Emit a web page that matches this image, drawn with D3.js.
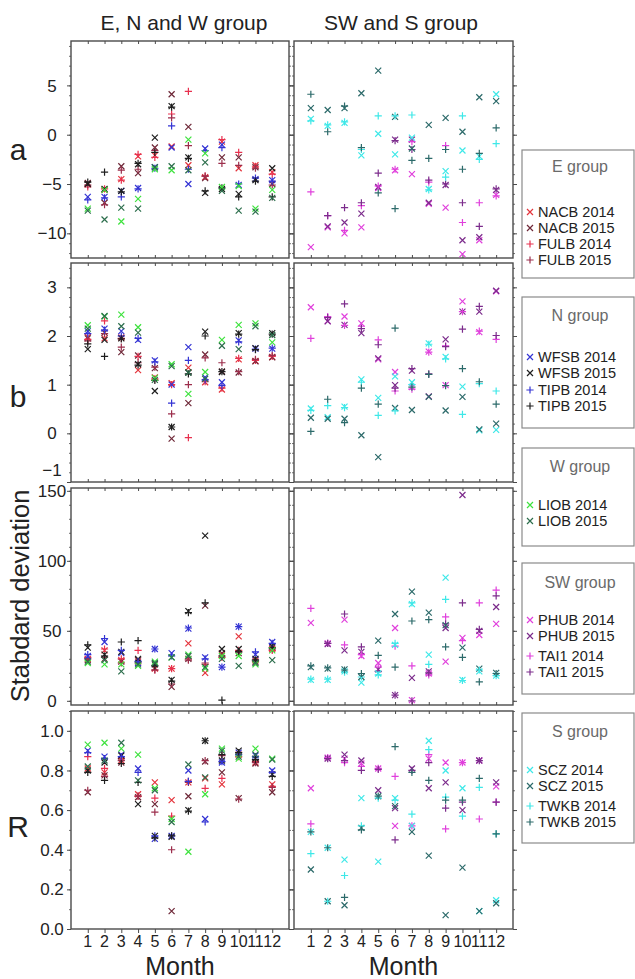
<!DOCTYPE html>
<html><head><meta charset="utf-8">
<script src="https://cdn.jsdelivr.net/npm/d3@7"></script>
<style>body{margin:0;background:#fff} svg{display:block;font-family:"Liberation Sans",Arial,sans-serif}</style>
</head><body><svg id="c" width="635" height="979"></svg>
<script>
// ---------------- DATA ----------------
const months = [1,2,3,4,5,6,7,8,9,10,11,12];
const monthLabels = ["1","2","3","4","5","6","7","8","9","10","11","12"];

const leftStations  = ["NACB14","NACB15","FULB14","FULB15","WFSB14","WFSB15","TIPB14","TIPB15","LIOB14","LIOB15"];
const rightStations = ["PHUB14","PHUB15","TAI114","TAI115","SCZ14","SCZ15","TWKB14","TWKB15"];

// a
const a_NACB14 = [-5.0,-5.6,-4.5,-2.2,-2.1,-1.2,-3.1,-4.3,-0.7,-3.4,-3.1,-3.8];
const a_NACB15 = [-4.9,-6.9,-3.2,-3.9,-1.3,4.1,0.8,-4.4,-2.3,-2.3,-3.3,-5.0];
const a_FULB14 = [-5.3,-5.5,-4.6,-2.0,-2.3,2.1,4.4,-4.2,-0.5,-1.8,-3.2,-4.0];
const a_FULB15 = [-5.1,-7.1,-3.6,-3.5,-1.6,1.7,-1.1,-4.2,-2.9,-3.1,-3.4,-5.1];
const a_WFSB14 = [-6.3,-6.3,-5.7,-5.4,-3.3,-1.3,-5.0,-1.4,-1.0,-5.1,-4.5,-4.6];
const a_WFSB15 = [-5.0,-5.5,-5.7,-3.0,-0.3,2.9,-2.3,-5.9,-5.5,-6.0,-4.6,-3.4];
const a_TIPB14 = [-6.6,-6.4,-6.3,-5.5,-3.4,0.9,-3.5,-1.6,-1.3,-5.0,-4.4,-4.7];
const a_TIPB15 = [-4.8,-3.8,-5.8,-2.9,-1.8,2.8,-2.4,-5.7,-5.4,-6.3,-4.7,-6.3];
const a_LIOB14 = [-7.5,-5.6,-8.8,-6.5,-3.5,-3.6,-0.5,-1.9,-5.3,-5.2,-7.5,-5.6];
const a_LIOB15 = [-7.7,-8.6,-7.4,-7.5,-3.3,-3.2,-3.6,-2.8,-5.7,-7.7,-7.8,-6.4];
const a_PHUB14 = [-11.4,-9.4,-10.0,-9.4,-5.4,-3.6,-4.0,-7.0,-7.4,-12.1,-10.7,-6.1];
const a_PHUB15 = [null,-9.3,-8.9,-8.0,-5.3,-0.5,-0.5,-6.9,-5.1,-10.7,-10.4,-5.6];
const a_TAI114 = [-5.8,-8.2,-9.7,-7.2,-5.2,-3.5,-0.7,-4.8,-1.1,-8.9,-6.9,-6.2];
const a_TAI115 = [null,-8.2,-7.4,-6.9,-3.9,-0.6,-1.5,-4.6,-5.0,-6.9,-9.3,-5.5];
const a_SCZ14  = [1.6,0.9,1.2,-2.1,0.1,-2.0,-0.3,-5.5,-3.7,-1.6,-2.2,4.1];
const a_SCZ15  = [2.7,2.5,2.7,4.2,6.5,1.8,-1.4,1.0,1.7,0.3,3.8,3.4];
const a_TWKB14 = [1.4,1.0,1.3,-1.5,1.9,1.9,2.0,-5.6,-4.3,1.9,-2.5,-0.9];
const a_TWKB15 = [4.1,0.3,2.9,-1.3,-5.9,-7.5,-2.6,-2.4,-1.5,-3.5,-1.9,0.7];

// b
const b_NACB14 = [1.98,1.95,1.97,1.30,1.15,1.03,1.35,1.05,0.90,1.52,1.49,1.57];
const b_NACB15 = [1.95,2.07,1.67,1.60,1.34,-0.11,0.62,1.62,1.27,1.25,1.48,1.56];
const b_FULB14 = [1.93,2.31,1.95,1.58,1.12,1.00,-0.09,1.06,0.93,1.54,1.50,1.58];
const b_FULB15 = [1.90,2.05,1.77,1.45,1.36,0.40,1.00,1.55,1.45,1.27,1.52,1.60];
const b_WFSB14 = [2.10,2.15,2.10,1.92,1.50,1.00,1.77,1.15,1.05,1.91,1.74,1.74];
const b_WFSB15 = [1.73,1.92,1.95,1.42,0.87,0.13,1.25,2.09,1.26,2.06,1.75,2.06];
const b_TIPB14 = [2.05,2.12,2.00,1.95,1.47,0.62,1.50,1.10,0.98,1.88,1.73,1.75];
const b_TIPB15 = [1.84,1.58,1.94,1.40,1.09,0.13,1.22,2.00,1.27,2.04,1.72,2.04];
const b_LIOB14 = [2.22,2.40,2.44,2.18,1.14,1.42,0.81,1.26,1.92,2.23,2.26,1.87];
const b_LIOB15 = [2.15,2.41,2.20,2.07,1.10,1.38,1.25,1.12,1.80,1.73,2.20,2.02];
const b_PHUB14 = [2.59,2.31,2.40,2.26,1.52,1.26,0.95,1.68,0.99,2.71,2.08,2.92];
const b_PHUB15 = [null,2.30,2.23,2.06,1.54,0.99,1.29,0.76,1.93,2.50,2.50,2.93];
const b_TAI114 = [1.95,2.40,2.22,2.20,1.92,0.87,0.91,1.67,1.80,2.50,2.10,1.93];
const b_TAI115 = [null,2.38,2.66,2.15,1.82,0.93,1.33,1.22,1.78,2.14,2.61,2.01];
const b_SCZ14  = [0.51,0.33,0.55,1.11,0.73,1.17,1.05,1.85,1.57,0.96,0.06,0.07];
const b_SCZ15  = [0.32,0.30,0.30,-0.04,-0.49,0.52,0.48,0.75,0.47,0.75,0.08,0.20];
const b_TWKB14 = [0.47,0.57,0.53,1.05,0.37,0.46,1.00,1.83,1.53,0.39,1.02,0.87];
const b_TWKB15 = [0.04,0.70,0.22,0.93,0.60,2.16,0.95,1.21,0.98,1.33,1.06,0.60];

// c (standard deviation)
const c_NACB14 = [30,36,29,28,23,23,41,20,33,46,29,37];
const c_NACB15 = [29,30,28,29,23.5,10,30,68,34,34,28,38];
const c_FULB14 = [31,37,30,36,22,23,30,26,31,36,28,36];
const c_FULB15 = [30,31,27,27,22,12,29,27,32,35,29,37];
const c_WFSB14 = [32,42,34,27,37,34,51.5,31,24,53,33,42];
const c_WFSB15 = [38,33,35,30,26,15,64,118,37,37,30,39];
const c_TIPB14 = [33,44.5,36,28,37,32,52,30,24,53,35,41];
const c_TIPB15 = [40,32,42,43,25,14,63,70,0.5,35,29,38];
const c_LIOB14 = [27,26,26,25,28,31,33,23,32,32,26,36];
const c_LIOB15 = [28,29,21,26,27,31,32,24,30,25,27,29];
const c_PHUB14 = [55.7,41,58,32,27,52,0.5,19.5,28,45,47,55];
const c_PHUB15 = [null,40.5,36,35,22.5,4,16.4,21,52,147,50,67];
const c_TAI114 = [66,41,40,33,24,39,25,18.5,60,43,70,79];
const c_TAI115 = [null,41,62,38.5,21,4,0,20,55,70,51,75];
const c_SCZ14  = [15,15,21,13,19.5,40,69,33,88,15,21,18];
const c_SCZ15  = [24,23,22.5,17,43,62,78,63,54,38,23,20];
const c_TWKB14 = [15.5,15.5,20.5,17,18.5,41,70,26,72.5,14.5,22,18];
const c_TWKB15 = [25,23.5,22,19.5,32.5,24,57,58,38.5,31,13.5,19.5];

// d (R)
const d_NACB14 = [0.81,0.79,0.85,0.68,0.74,0.65,0.74,0.76,0.73,0.88,0.84,0.73];
const d_NACB15 = [0.69,0.775,0.84,0.665,0.63,0.09,0.67,0.845,0.79,0.66,0.835,0.69];
const d_FULB14 = [0.87,0.81,0.86,0.67,0.66,0.57,0.745,0.71,0.76,0.87,0.845,0.72];
const d_FULB15 = [0.70,0.77,0.85,0.67,0.59,0.40,0.74,0.85,0.875,0.655,0.84,0.715];
const d_WFSB14 = [0.90,0.87,0.88,0.81,0.455,0.47,0.80,0.555,0.84,0.89,0.875,0.80];
const d_WFSB15 = [0.80,0.84,0.875,0.63,0.47,0.465,0.60,0.95,0.85,0.90,0.86,0.78];
const d_TIPB14 = [0.89,0.86,0.87,0.79,0.47,0.47,0.745,0.54,0.845,0.88,0.87,0.79];
const d_TIPB15 = [0.79,0.75,0.835,0.74,0.46,0.47,0.595,0.95,0.88,0.89,0.855,0.77];
const d_LIOB14 = [0.93,0.94,0.91,0.88,0.71,0.555,0.39,0.68,0.91,0.86,0.91,0.86];
const d_LIOB15 = [0.82,0.85,0.94,0.75,0.70,0.54,0.83,0.765,0.90,0.87,0.88,0.855];
const d_PHUB14 = [0.71,0.865,0.86,0.835,0.81,0.52,0.52,0.86,0.84,0.84,0.85,0.72];
const d_PHUB15 = [null,0.86,0.88,0.85,0.70,0.61,0.81,0.71,0.74,0.60,0.85,0.74];
const d_TAI114 = [0.53,0.865,0.84,0.82,0.81,0.77,0.52,0.88,0.505,0.84,0.555,0.64];
const d_TAI115 = [null,0.86,0.85,0.80,0.805,0.45,0.80,0.84,0.61,0.64,0.85,0.64];
const d_SCZ14  = [0.49,0.41,0.35,0.66,0.34,0.66,0.52,0.95,0.80,0.71,0.09,0.145];
const d_SCZ15  = [0.30,0.14,0.12,0.51,0.67,0.62,0.49,0.37,0.07,0.31,0.09,0.13];
const d_TWKB14 = [0.38,0.14,0.27,0.52,0.66,0.65,0.58,0.905,0.665,0.57,0.715,0.48];
const d_TWKB15 = [0.49,0.41,0.16,0.50,0.67,0.92,0.79,0.75,0.65,0.65,0.76,0.48];

const tickLabels_a = [5,0,-5,-10];
const tickLabels_b = [3,2,1,0,-1];
const tickLabels_c = [150,100,50,0];
const tickLabels_d = [1.0,0.8,0.6,0.4,0.2,0.0];

const legendGroups = [
  {title:"E group",  items:[["NACB14","NACB 2014"],["NACB15","NACB 2015"],["FULB14","FULB 2014"],["FULB15","FULB 2015"]]},
  {title:"N group",  items:[["WFSB14","WFSB 2014"],["WFSB15","WFSB 2015"],["TIPB14","TIPB 2014"],["TIPB15","TIPB 2015"]]},
  {title:"W group",  items:[["LIOB14","LIOB 2014"],["LIOB15","LIOB 2015"]]},
  {title:"SW group", items:[["PHUB14","PHUB 2014"],["PHUB15","PHUB 2015"],["TAI114","TAI1 2014"],["TAI115","TAI1 2015"]]},
  {title:"S group",  items:[["SCZ14","SCZ 2014"],["SCZ15","SCZ 2015"],["TWKB14","TWKB 2014"],["TWKB15","TWKB 2015"]]}
];

// ---------------- STYLE ----------------
const style = {
  NACB14:{c:"#e4343c",s:"x"}, NACB15:{c:"#6e2838",s:"x"},
  FULB14:{c:"#e8304e",s:"+"}, FULB15:{c:"#9c2e4c",s:"+"},
  WFSB14:{c:"#3434d4",s:"x"}, WFSB15:{c:"#1e1e1e",s:"x"},
  TIPB14:{c:"#3434d4",s:"+"}, TIPB15:{c:"#1e1e1e",s:"+"},
  LIOB14:{c:"#3ee23e",s:"x"}, LIOB15:{c:"#2c6e4c",s:"x"},
  PHUB14:{c:"#e040dc",s:"x"}, PHUB15:{c:"#7c2c8c",s:"x"},
  TAI114:{c:"#e040dc",s:"+"}, TAI115:{c:"#7c2c8c",s:"+"},
  SCZ14:{c:"#3ee8e8",s:"x"},  SCZ15:{c:"#2c6a6a",s:"x"},
  TWKB14:{c:"#3ee8e8",s:"+"}, TWKB15:{c:"#2c6a6a",s:"+"}
};

// build lookup table from the named arrays
const src = {a_NACB14,a_NACB15,a_FULB14,a_FULB15,a_WFSB14,a_WFSB15,a_TIPB14,a_TIPB15,a_LIOB14,a_LIOB15,a_PHUB14,a_PHUB15,a_TAI114,a_TAI115,a_SCZ14,a_SCZ15,a_TWKB14,a_TWKB15,
 b_NACB14,b_NACB15,b_FULB14,b_FULB15,b_WFSB14,b_WFSB15,b_TIPB14,b_TIPB15,b_LIOB14,b_LIOB15,b_PHUB14,b_PHUB15,b_TAI114,b_TAI115,b_SCZ14,b_SCZ15,b_TWKB14,b_TWKB15,
 c_NACB14,c_NACB15,c_FULB14,c_FULB15,c_WFSB14,c_WFSB15,c_TIPB14,c_TIPB15,c_LIOB14,c_LIOB15,c_PHUB14,c_PHUB15,c_TAI114,c_TAI115,c_SCZ14,c_SCZ15,c_TWKB14,c_TWKB15,
 d_NACB14,d_NACB15,d_FULB14,d_FULB15,d_WFSB14,d_WFSB15,d_TIPB14,d_TIPB15,d_LIOB14,d_LIOB15,d_PHUB14,d_PHUB15,d_TAI114,d_TAI115,d_SCZ14,d_SCZ15,d_TWKB14,d_TWKB15};

// ---------------- LAYOUT ----------------
const svg = d3.select("#c");
const cols = [{x0:71,x1:289,stations:leftStations},{x0:294,x1:513,stations:rightStations}];
const rows = [
  {key:"a",domain:[-12.5,9.5],ticks:tickLabels_a,minor:1,y0:41,y1:258,fmt:d=>d3.format("d")(d)},
  {key:"b",domain:[-1,3.5],ticks:tickLabels_b,minor:0.2,y0:263,y1:482,fmt:d=>d3.format("d")(d)},
  {key:"c",domain:[-3,152],ticks:tickLabels_c,minor:10,y0:488,y1:705,fmt:d=>d3.format("d")(d)},
  {key:"d",domain:[0,1.1],ticks:tickLabels_d,minor:0.1,y0:711,y1:929,fmt:d=>d3.format(".1f")(d)}
];
const frameCol = "#4a4a4a";

function symPath(s){
  return s==="x" ? "M-3,-3L3,3M-3,3L3,-3" : "M-3.6,0H3.6M0,-3.6V3.6";
}

rows.forEach((r,ri)=>{
  const y = d3.scaleLinear().domain(r.domain).range([r.y1,r.y0]);
  const lo = r.domain[0], hi = r.domain[1];
  const minorVals = [];
  const n0 = Math.ceil(lo/r.minor - 1e-9), n1 = Math.floor(hi/r.minor + 1e-9);
  for(let k=n0;k<=n1;k++) minorVals.push(+(k*r.minor).toFixed(4));
  cols.forEach((c,ci)=>{
    const x = d3.scaleLinear().domain([0,13]).range([c.x0,c.x1]);
    const g = svg.append("g");
    g.append("rect").attr("x",c.x0).attr("y",r.y0).attr("width",c.x1-c.x0).attr("height",r.y1-r.y0)
      .attr("fill","none").attr("stroke",frameCol).attr("stroke-width",1.4);
    const topAx = d3.axisTop(x).tickValues(months).tickSize(-3).tickFormat("");
    g.append("g").attr("transform",`translate(0,${r.y0})`).call(topAx)
      .call(a=>{a.select(".domain").remove();a.selectAll("line").attr("stroke",frameCol);});
    const botAx = d3.axisBottom(x).tickValues(months).tickSize(ri===3?4:-3).tickFormat("");
    g.append("g").attr("transform",`translate(0,${r.y1})`).call(botAx)
      .call(a=>{a.select(".domain").remove();a.selectAll("line").attr("stroke",frameCol);});
    [["L",c.x0],["R",c.x1]].forEach(([side,xp])=>{
      const mk = ()=> side==="L"?d3.axisLeft(y):d3.axisRight(y);
      g.append("g").attr("transform",`translate(${xp},0)`)
        .call(mk().tickValues(minorVals).tickSize(2).tickFormat(""))
        .call(a=>{a.select(".domain").remove();a.selectAll("line").attr("stroke",frameCol).attr("stroke-width",0.8);});
      g.append("g").attr("transform",`translate(${xp},0)`)
        .call(mk().tickValues(r.ticks).tickSize(4).tickFormat(""))
        .call(a=>{a.select(".domain").remove();a.selectAll("line").attr("stroke",frameCol).attr("stroke-width",1);});
    });
    if(ci===0){
      g.selectAll("text.tl").data(r.ticks).join("text").attr("class","tl")
        .attr("x",52).attr("y",d=>y(d)+ (r.key==="b"&&d===-1 ? -12 : 0)).attr("dy","0.36em")
        .attr("text-anchor","middle").attr("font-size",17).attr("fill","#222")
        .text(d=> r.fmt(d).replace("-","\u2212"));
    }
    c.stations.forEach(st=>{
      const vals = src[r.key+"_"+st];
      const pts = months.map((m,i)=>({m,v:vals[i]})).filter(p=>p.v!==null);
      g.selectAll(null).data(pts).join("path")
        .attr("transform",p=>`translate(${x(p.m)},${y(p.v)})`)
        .attr("d",symPath(style[st].s)).attr("fill","none")
        .attr("stroke",style[st].c).attr("stroke-width",1.2);
    });
    if(ri===3){
      g.selectAll("text.ml").data(months).join("text").attr("class","ml")
        .attr("x",m=>x(m)).attr("y",947).attr("text-anchor","middle")
        .attr("font-size",16).attr("fill","#222").text((m,i)=>monthLabels[i]);
      g.append("text").attr("x",(c.x0+c.x1)/2).attr("y",975).attr("text-anchor","middle")
        .attr("font-size",25).attr("fill","#222").text("Month");
    }
  });
});

svg.append("text").attr("x",184).attr("y",30).attr("text-anchor","middle").attr("font-size",21).attr("fill","#222").text("E, N and W group");
svg.append("text").attr("x",401).attr("y",30).attr("text-anchor","middle").attr("font-size",21).attr("fill","#222").text("SW and S group");
svg.append("text").attr("x",18).attr("y",160).attr("text-anchor","middle").attr("font-size",30).attr("fill","#222").text("a");
svg.append("text").attr("x",18).attr("y",407).attr("text-anchor","middle").attr("font-size",30).attr("fill","#222").text("b");
svg.append("text").attr("x",18).attr("y",837).attr("text-anchor","middle").attr("font-size",30).attr("fill","#222").text("R");
svg.append("text").attr("transform","translate(29,596) rotate(-90)").attr("text-anchor","middle").attr("font-size",25.5).attr("fill","#222").text("Stabdard deviation");

const legBoxes = [
  {y0:150,y1:278,title:166,rows:[212,228,244,260]},
  {y0:297,y1:428,title:315,rows:[357,373,390,406]},
  {y0:448,y1:546,title:466,rows:[505,521]},
  {y0:563,y1:694,title:582,rows:[620,636,656,672]},
  {y0:713,y1:843,title:731,rows:[770,786,806,822]}
];
legendGroups.forEach((lg,i)=>{
  const b = legBoxes[i];
  const g = svg.append("g");
  g.append("rect").attr("x",522).attr("y",b.y0).attr("width",112).attr("height",b.y1-b.y0)
    .attr("fill","#fff").attr("stroke","#8a8a8a").attr("stroke-width",1.2);
  g.append("text").attr("x",580).attr("y",b.title).attr("dy","0.36em").attr("text-anchor","middle")
    .attr("font-size",16).attr("fill","#6a6a6a").text(lg.title);
  lg.items.forEach(([st,label],j)=>{
    const yy = b.rows[j];
    g.append("path").attr("transform",`translate(530,${yy})`).attr("d",symPath(style[st].s))
      .attr("fill","none").attr("stroke",style[st].c).attr("stroke-width",1.2);
    g.append("text").attr("x",538).attr("y",yy).attr("dy","0.36em").attr("font-size",14.5).attr("fill","#222").text(label);
  });
});
</script></body></html>
